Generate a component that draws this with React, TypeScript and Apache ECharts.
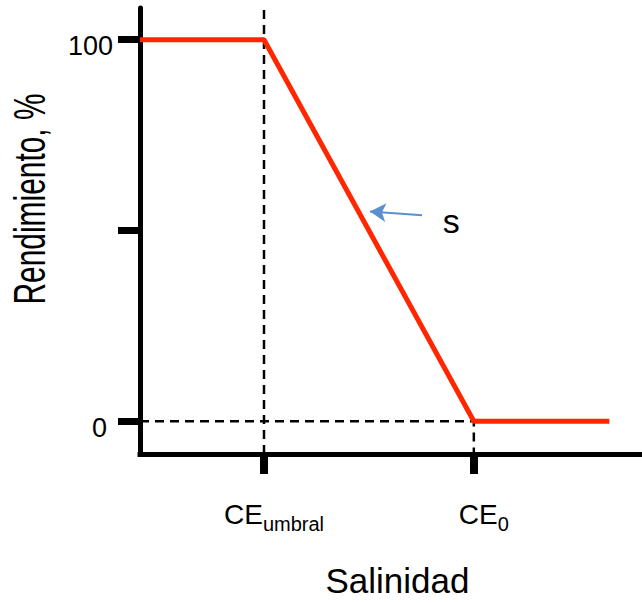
import React, { useEffect, useRef } from "react";
import * as echarts from "echarts";

// Salinity (arbitrary units) and relative yield (%)
const salinity = [0, 2.47, 6.65, 9.35];
const yieldPct = [100, 100, 0, 0];

const ceUmbral = 2.47;
const ceZero = 6.65;
const xMin = 0;
const xMax = 10;
const yMin = -8.58;
const yMax = 108.32;

const xTickValues = [ceUmbral, ceZero];
const xTickSubs = ["umbral", "0"];
const yTickValues = [0, 50, 100];
const yLabelValues = [0, 100];

const slopeArrowFrom = [5.62, 54.0];
const slopeArrowTo = [4.58, 55.0];
const slopeLabelAt = [6.2, 52.4];
const slopeLabel = "s";

const FONT = "Liberation Sans, Arial, sans-serif";

export default function App() {
  const ref = useRef<HTMLDivElement>(null);
  useEffect(() => {
    if (!ref.current) return;
    const chart = echarts.init(ref.current, null, { renderer: "svg" });
    const dashed = { color: "#000", width: 2.5, type: [9, 6] as any };
    chart.setOption({
      animation: false,
      grid: { left: 140, right: 0, top: 8, bottom: 145.5 },
      xAxis: {
        type: "value",
        min: xMin,
        max: xMax,
        name: "Salinidad",
        nameLocation: "middle",
        nameGap: 109,
        nameTextStyle: { fontSize: 35, fontFamily: FONT, color: "#000", padding: [0, 0, 0, 13] },
        splitLine: { show: false },
        axisLine: { onZero: false, lineStyle: { color: "#000", width: 5, cap: "square" } },
        axisTick: {
          show: true,
          inside: false,
          length: 20,
          customValues: xTickValues,
          lineStyle: { color: "#000", width: 8 },
        },
        axisLabel: {
          show: true,
          customValues: xTickValues,
          margin: 40,
          padding: [0, 0, 0, 20],
          formatter: (v: number) => {
            const i = xTickValues.findIndex((t) => Math.abs(t - v) < 1e-6);
            return "{m|CE}{s|" + (i >= 0 ? xTickSubs[i] : "") + "}";
          },
          rich: {
            m: { fontSize: 28, fontFamily: FONT, color: "#000" },
            s: { fontSize: 20, fontFamily: FONT, color: "#000", padding: [20, 0, 0, 0] },
          },
        },
      },
      yAxis: {
        type: "value",
        min: yMin,
        max: yMax,
        splitLine: { show: false },
        axisLine: { onZero: false, lineStyle: { color: "#000", width: 5 } },
        axisTick: {
          show: true,
          inside: false,
          length: 22,
          customValues: yTickValues,
          lineStyle: { color: "#000", width: 7 },
        },
        axisLabel: {
          show: true,
          customValues: yLabelValues,
          margin: 27,
          padding: [13, 0, 0, 0],
          formatter: (v: number) => (v === 0 ? "{z|0}" : "{h|" + v + "}"),
          rich: {
            z: { fontSize: 27, fontFamily: FONT, color: "#000", padding: [0, 6, 0, 0] },
            h: { fontSize: 27, fontFamily: FONT, color: "#000" },
          },
        },
      },
      graphic: [
        {
          type: "text",
          x: 30,
          y: 199,
          rotation: Math.PI / 2,
          scaleX: 0.68,
          style: {
            text: "Rendimiento, %",
            fontSize: 44,
            fontFamily: FONT,
            fill: "#000",
            align: "center",
            verticalAlign: "middle",
          },
        },
      ],
      series: [
        {
          type: "line",
          name: "umbral guide",
          symbol: "none",
          silent: true,
          lineStyle: dashed,
          data: [
            [ceUmbral, yMin],
            [ceUmbral, yMax],
          ],
          z: 1,
        },
        {
          type: "line",
          name: "zero guide",
          symbol: "none",
          silent: true,
          lineStyle: dashed,
          data: [
            [xMin, 0],
            [ceZero, 0],
            [ceZero, yMin],
          ],
          z: 1,
        },
        {
          type: "line",
          name: "Rendimiento",
          symbol: "none",
          lineStyle: { color: "#ff2600", width: 5 },
          data: salinity.map((x, i) => [x, yieldPct[i]]),
          z: 3,
          markLine: {
            silent: true,
            symbol: ["none", "arrow"],
            symbolSize: [14, 16],
            label: { show: false },
            lineStyle: { color: "#5b8fcd", width: 2, type: "solid" },
            data: [[{ coord: slopeArrowFrom }, { coord: slopeArrowTo }]],
          },
          markPoint: {
            silent: true,
            symbol: "circle",
            symbolSize: 0,
            label: {
              show: true,
              position: "inside",
              formatter: slopeLabel,
              fontSize: 34,
              fontFamily: FONT,
              color: "#000",
            },
            data: [{ coord: slopeLabelAt }],
          },
        },
      ],
    });
    return () => chart.dispose();
  }, []);
  return (
    <div
      ref={ref}
      style={{ position: "fixed", left: 0, top: 0, width: 642, height: 603, background: "#fff" }}
    />
  );
}
